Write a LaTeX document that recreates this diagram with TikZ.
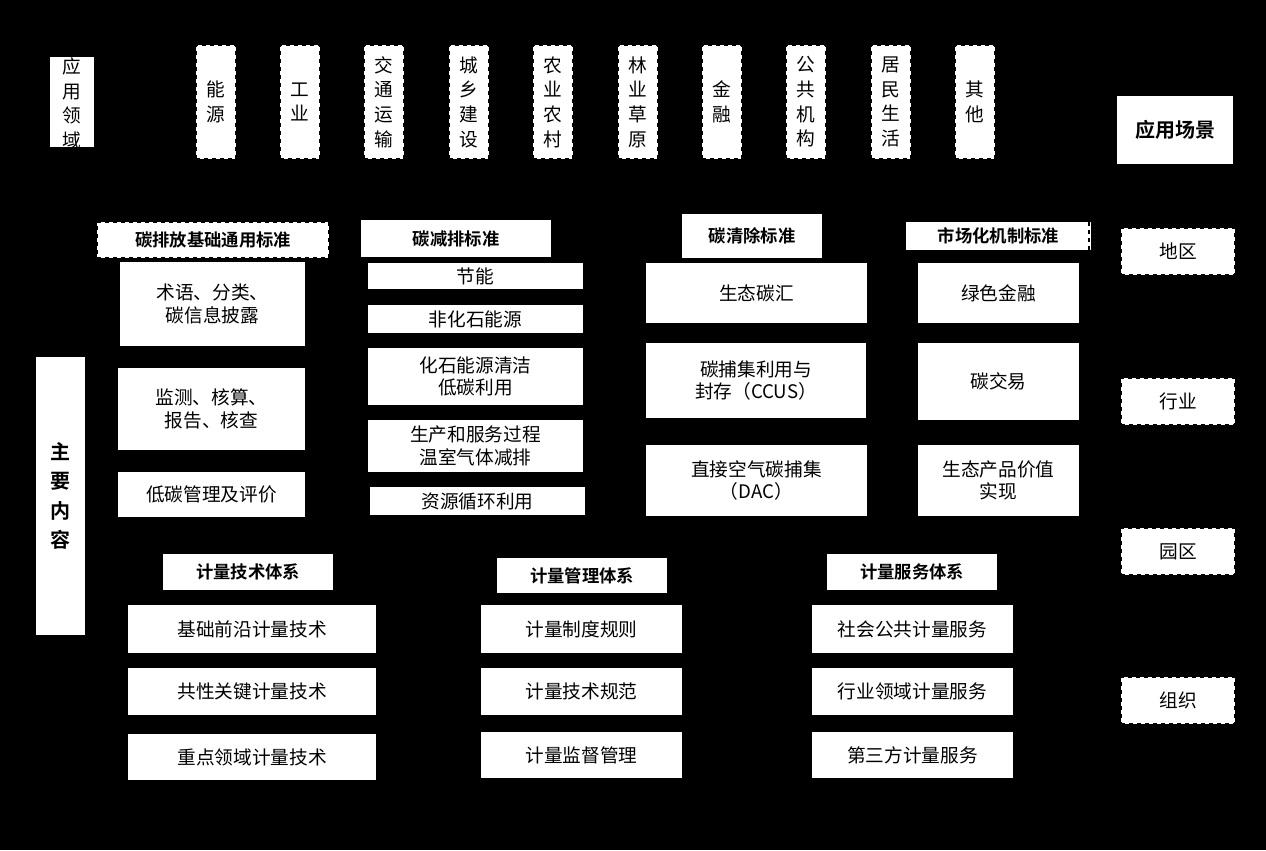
\documentclass[tikz,border=0pt]{standalone}
\usepackage{fontspec}
\setmainfont{Noto Sans CJK SC}
\newfontfamily\hfont{Noto Sans CJK SC Bold}
\newcommand\bx[7][]{%
  \pgfmathsetmacro\cx{(#3+#5)/2}\pgfmathsetmacro\cy{(#4+#6)/2}%
  \pgfmathsetmacro\ww{(#5-#3)*0.75}\pgfmathsetmacro\hh{(#6-#4)*0.75}%
  \node[box,#1,minimum width=\ww pt,minimum height=\hh pt] (#2) at (\cx,\cy) {#7};}
\begin{document}
\begin{tikzpicture}[x=0.75pt,y=-0.75pt,
  box/.style={fill=white,draw=none,inner sep=0pt,align=center,font=\fontsize{14}{17}\selectfont},
  dbox/.style={draw=black,dashed,line width=0.8pt},
  hd/.style={font=\hfont\fontsize{13}{16}\selectfont},
  vt/.style={align=center,font=\fontsize{14}{18.5}\selectfont}]
\fill[black] (0,0) rectangle (1266,850);
\useasboundingbox (0,0) rectangle (1266,850);
% 应用领域 (clipped)
\begin{scope}
\clip (50,57) rectangle (94,147);
\bx{yyly}{50}{57}{94}{147}{}
\node[vt,font=\fontsize{14}{18.5}\selectfont,anchor=north] (yylyt) at (72,53) {应\\用\\领\\域};
\end{scope}
% top dashed
\bx[dbox,vt]{ny}{196}{45}{236}{159}{能\\源}
\bx[dbox,vt]{gy}{280}{45}{320}{159}{工\\业}
\bx[dbox,vt]{jt}{364}{45}{404}{159}{交\\通\\运\\输}
\bx[dbox,vt]{cx}{449}{45}{489}{159}{城\\乡\\建\\设}
\bx[dbox,vt]{ny2}{533}{45}{573}{159}{农\\业\\农\\村}
\bx[dbox,vt]{ly}{618}{45}{658}{159}{林\\业\\草\\原}
\bx[dbox,vt]{jr}{702}{45}{742}{159}{金\\融}
\bx[dbox,vt]{gg}{786}{45}{826}{159}{公\\共\\机\\构}
\bx[dbox,vt]{jm}{871}{45}{911}{159}{居\\民\\生\\活}
\bx[dbox,vt]{qt}{955}{45}{995}{159}{其\\他}
% right
\bx[hd,font=\hfont\fontsize{15}{18}\selectfont]{yycj}{1117}{96}{1233}{164}{应用场景}
\bx[dbox]{dq}{1121}{228}{1235}{275}{地区}
\bx[dbox]{hy}{1121}{378}{1235}{425}{行业}
\bx[dbox]{yq}{1121}{528}{1235}{575}{园区}
\bx[dbox]{zz}{1121}{677}{1235}{724}{组织}
% 主要内容
\bx[vt,font=\hfont\fontsize{15}{22}\selectfont]{zynr}{36}{357}{85}{635}{主\\要\\内\\容}
% headers
\bx[hd,dbox]{h1}{97}{222}{329}{258}{碳排放基础通用标准}
\bx[hd]{h2}{361}{220}{551}{257}{碳减排标准}
\bx[hd]{h3}{682}{214}{822}{258}{碳清除标准}
\bx[hd]{h4}{906}{222}{1091}{250}{市场化机制标准}
\draw[black,dashed,line width=0.8pt] (1089,222) -- (1089,250);
% col1
\bx{a1}{120}{262}{305}{346}{术语、分类、\\碳信息披露}
\bx{a2}{118}{368}{305}{450}{监测、核算、\\报告、核查}
\bx{a3}{118}{472}{305}{517}{低碳管理及评价}
% col2
\bx{b1}{368}{263}{583}{289}{节能}
\bx{b2}{368}{305}{583}{333}{非化石能源}
\bx{b3}{368}{348}{583}{405}{化石能源清洁\\低碳利用}
\bx{b4}{368}{420}{583}{472}{生产和服务过程\\温室气体减排}
\bx{b5}{370}{487}{585}{515}{资源循环利用}
% col3
\bx{c1}{646}{263}{867}{323}{生态碳汇}
\bx{c2}{646}{343}{866}{418}{碳捕集利用与\\封存（CCUS）}
\bx{c3}{646}{445}{867}{516}{直接空气碳捕集\\（DAC）}
% col4
\bx{d1}{918}{263}{1079}{323}{绿色金融}
\bx{d2}{918}{343}{1079}{420}{碳交易}
\bx{d3}{918}{445}{1079}{516}{生态产品价值\\实现}
% bottom
\bx[hd]{e0}{163}{554}{333}{590}{计量技术体系}
\bx[hd]{f0}{497}{558}{667}{593}{计量管理体系}
\bx[hd]{g0}{827}{554}{997}{590}{计量服务体系}
\bx{e1}{128}{605}{376}{653}{基础前沿计量技术}
\bx{e2}{128}{668}{376}{715}{共性关键计量技术}
\bx{e3}{128}{734}{376}{780}{重点领域计量技术}
\bx{f1}{481}{605}{682}{653}{计量制度规则}
\bx{f2}{481}{668}{682}{715}{计量技术规范}
\bx{f3}{481}{732}{682}{778}{计量监督管理}
\bx{g1}{812}{605}{1013}{653}{社会公共计量服务}
\bx{g2}{812}{668}{1013}{715}{行业领域计量服务}
\bx{g3}{812}{732}{1013}{778}{第三方计量服务}
\end{tikzpicture}
\end{document}
